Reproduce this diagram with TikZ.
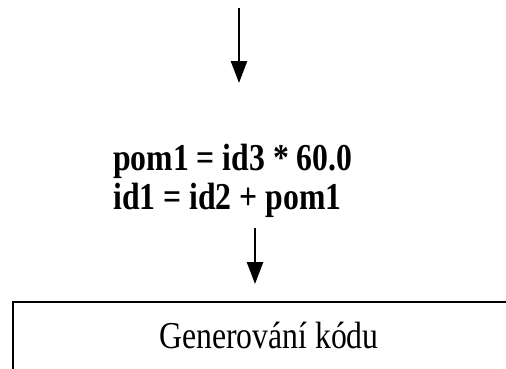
\documentclass[tikz,border=0pt]{standalone}
\usepackage{fontspec}
\setmainfont{Liberation Serif}
\newfontfamily\narrowserif[FakeStretch=0.835]{Liberation Serif}
\usetikzlibrary{arrows.meta}
\begin{document}
\begin{tikzpicture}[x=1pt,y=-1pt,
  flow/.style={line width=2.6pt,-{Triangle[length=22pt,width=16pt]}},
  stage/.style={draw,line width=1.8pt},
  code/.style={font=\narrowserif\fontsize{38}{39}\selectfont\bfseries,align=left,anchor=base west,inner sep=0pt},
  label/.style={font=\narrowserif\fontsize{38}{39}\selectfont,anchor=base,inner sep=0pt}]
  \useasboundingbox (0,0) rectangle (506,368);
  \clip (0,0) rectangle (506,368);
  % incoming arrow
  \coordinate (in0) at (239,8);
  \coordinate (in1) at (239,83);
  \draw[flow] (in0) -- (in1);
  % intermediate code (base anchor sits on the last line)
  \node[code] (ic) at (113,209) {pom1 = id3 * 60.0\\id1 = id2 + pom1};
  \coordinate (out0) at (255,228);
  \coordinate (out1) at (255,284);
  \draw[flow] (out0) -- (out1);
  % next phase
  \node[stage,minimum width=514pt,minimum height=90pt,anchor=north west] (gen) at (12,301) {};
  \node[label] (genlabel) at (269,348) {Generování kódu};
\end{tikzpicture}
\end{document}
